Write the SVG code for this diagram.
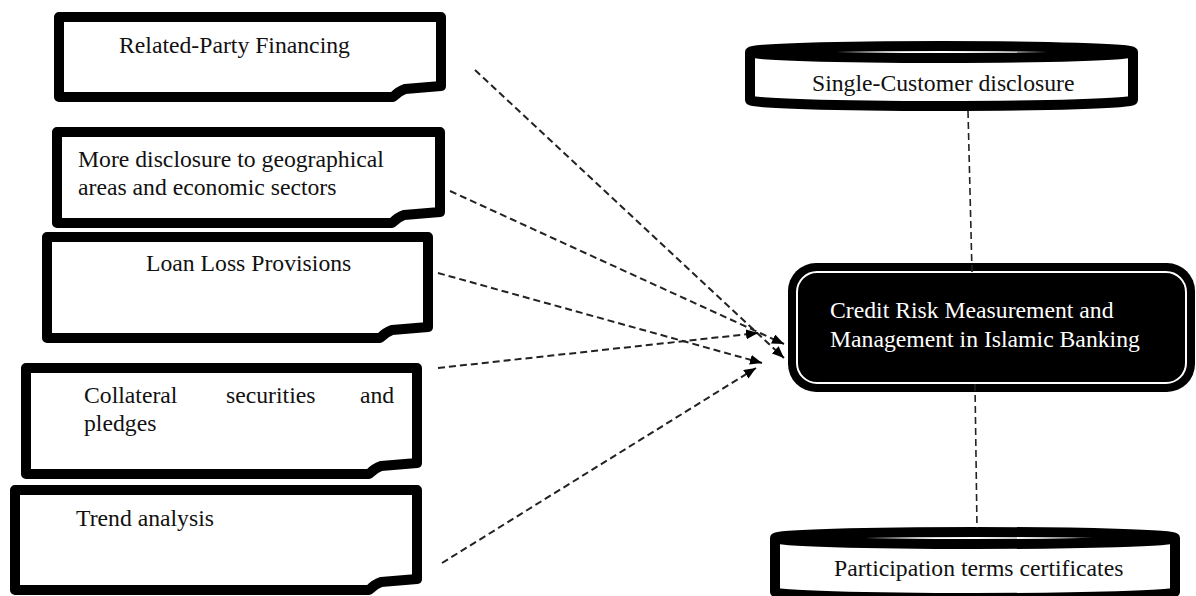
<svg xmlns="http://www.w3.org/2000/svg" width="1196" height="596" viewBox="0 0 1196 596">
<style>
.box{fill:#fff;stroke:#000;stroke-width:10;stroke-linejoin:round}
.t{font-family:"Liberation Serif","Times New Roman",serif;font-size:23.7px;fill:#111}
.tw{font-family:"Liberation Serif","Times New Roman",serif;font-size:23.7px;fill:#fff}
.dash{fill:none;stroke:#222;stroke-width:2;stroke-dasharray:7 4}
.vdash{fill:none;stroke:#222;stroke-width:1.6;stroke-dasharray:7 4}
.cyl{fill:none;stroke:#000;stroke-width:10;stroke-linejoin:round}
</style>
<defs>
<marker id="ah" markerUnits="userSpaceOnUse" markerWidth="13" markerHeight="10" refX="12" refY="5" orient="auto">
<path d="M0,0 L12,5 L0,10 Z" fill="#000"/>
</marker>
</defs>
<rect width="1196" height="596" fill="#fff"/>

<g id="node-related-party">
<path class="box" d="M59,17 H441 V86 L405,89 Q399,91 393,97 H59 Z"/>
<text class="t" x="119" y="53">Related-Party Financing</text>
</g>

<g id="node-geographical">
<path class="box" d="M57,132 H440 V212 L404,215 Q398,217 392,223 H57 Z"/>
<text class="t" x="78" y="167">More disclosure to geographical</text>
<text class="t" x="78" y="195">areas and economic sectors</text>
</g>

<g id="node-loan-loss">
<path class="box" d="M47,237 H428 V327 L392,330 Q386,332 380,338 H47 Z"/>
<text class="t" x="146" y="271">Loan Loss Provisions</text>
</g>

<g id="node-collateral">
<path class="box" d="M26,368 H417 V463 L381,466 Q375,468 369,474 H26 Z"/>
<text class="t" x="84" y="403">Collateral</text>
<text class="t" x="226" y="403">securities</text>
<text class="t" x="360" y="403">and</text>
<text class="t" x="84" y="431">pledges</text>
</g>

<g id="node-trend">
<path class="box" d="M15,490 H417 V579 L381,582 Q375,584 369,590 H15 Z"/>
<text class="t" x="76" y="526">Trend analysis</text>
</g>

<g id="node-single-customer">
<path d="M750,52 V100 A191.5 6 0 0 0 1133,100 V52 Z" fill="#fff"/>
<text class="t" x="812" y="91">Single-Customer disclosure</text>
<path class="cyl" d="M750,52 V100 A191.5 6 0 0 0 1133,100 V52"/>
<ellipse class="cyl" cx="941.5" cy="52" rx="191.5" ry="6" fill="none"/>
</g>

<g id="node-participation">
<path d="M775,538 V592 A200 6 0 0 0 1175,592 V538 Z" fill="#fff"/>
<text class="t" x="834" y="576">Participation terms certificates</text>
<path class="cyl" d="M775,538 V592 A200 6 0 0 0 1175,592 V538"/>
<ellipse class="cyl" cx="975" cy="538" rx="200" ry="6" fill="none"/>
</g>

<g id="node-credit-risk">
<rect x="788" y="263" width="407" height="129" rx="28" fill="#000"/>
<rect x="797" y="272" width="389" height="111" rx="20" fill="none" stroke="#fff" stroke-width="2"/>
<text class="tw" x="830" y="318">Credit Risk Measurement  and</text>
<text class="tw" x="830" y="347">Management in Islamic Banking</text>
</g>

<g id="connectors">
<path class="dash" d="M475,70 L784,358" marker-end="url(#ah)"/>
<path class="dash" d="M450,191 L784,344" marker-end="url(#ah)"/>
<path class="dash" d="M438,273 L762,363" marker-end="url(#ah)"/>
<path class="dash" d="M438,368 L758,333" marker-end="url(#ah)"/>
<path class="dash" d="M442,563 L756,368" marker-end="url(#ah)"/>
<path class="vdash" d="M968,111 L972,272"/>
<path class="vdash" d="M975,384 L977,528"/>
</g>
</svg>
